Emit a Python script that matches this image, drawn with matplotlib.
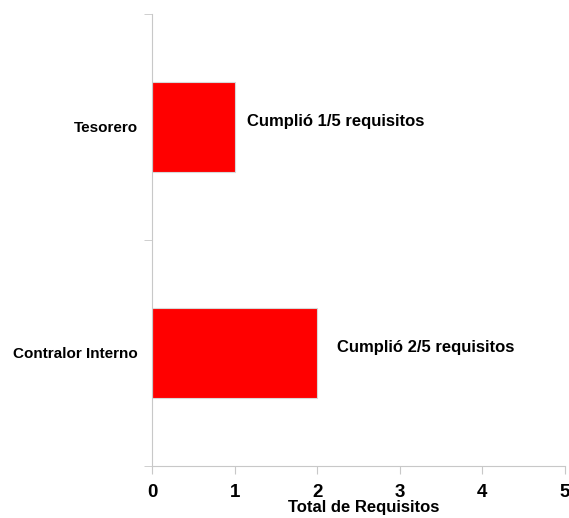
import matplotlib.pyplot as plt

plt.rcParams['font.family'] = ['Liberation Sans', 'DejaVu Sans']

cargos = ['Contralor Interno', 'Tesorero']
cumplidos = [2, 1]
total_requisitos = 5
etiquetas = ['Cumplió 2/5 requisitos', 'Cumplió 1/5 requisitos']

fig = plt.figure(figsize=(5.69, 5.18), dpi=100)
ax = fig.add_axes([0.2671, 0.1004, 0.7259, 0.8726])

pos = list(range(len(cargos)))
ax.barh(pos, cumplidos, height=0.4, color='#ff0000',
        edgecolor='#d8d8d8', linewidth=0.8)

# text offsets (data units) right of each bar
offsets = [0.24, 0.15]
for y, v, txt, off in zip(pos, cumplidos, etiquetas, offsets):
    ax.text(v + off, y + 0.025, txt, va='center', ha='left',
            fontsize=12, fontweight='bold')

ax.set_xlim(0, total_requisitos)
ax.set_ylim(-0.5, len(cargos) - 0.5)
ax.set_xticks(range(total_requisitos + 1))
ax.tick_params(axis='x', labelsize=13.5, length=6, color='#c8c8c8', pad=7)
for lbl in ax.get_xticklabels():
    lbl.set_fontweight('bold')

ax.set_yticks(pos)
ax.set_yticklabels(cargos, fontsize=11, fontweight='bold')
ax.tick_params(axis='y', length=0, pad=10)
ax.set_yticks([p - 0.5 for p in pos] + [len(cargos) - 0.5], minor=True)
ax.tick_params(axis='y', which='minor', length=6, color='#c8c8c8')

for s in ['top', 'right']:
    ax.spines[s].set_visible(False)
for s in ['left', 'bottom']:
    ax.spines[s].set_color('#c8c8c8')

ax.set_xlabel('Total de Requisitos', fontsize=12, fontweight='bold', labelpad=0)
ax.xaxis.set_label_coords(0.513, -0.075)

fig.savefig('out.png', dpi=100)
